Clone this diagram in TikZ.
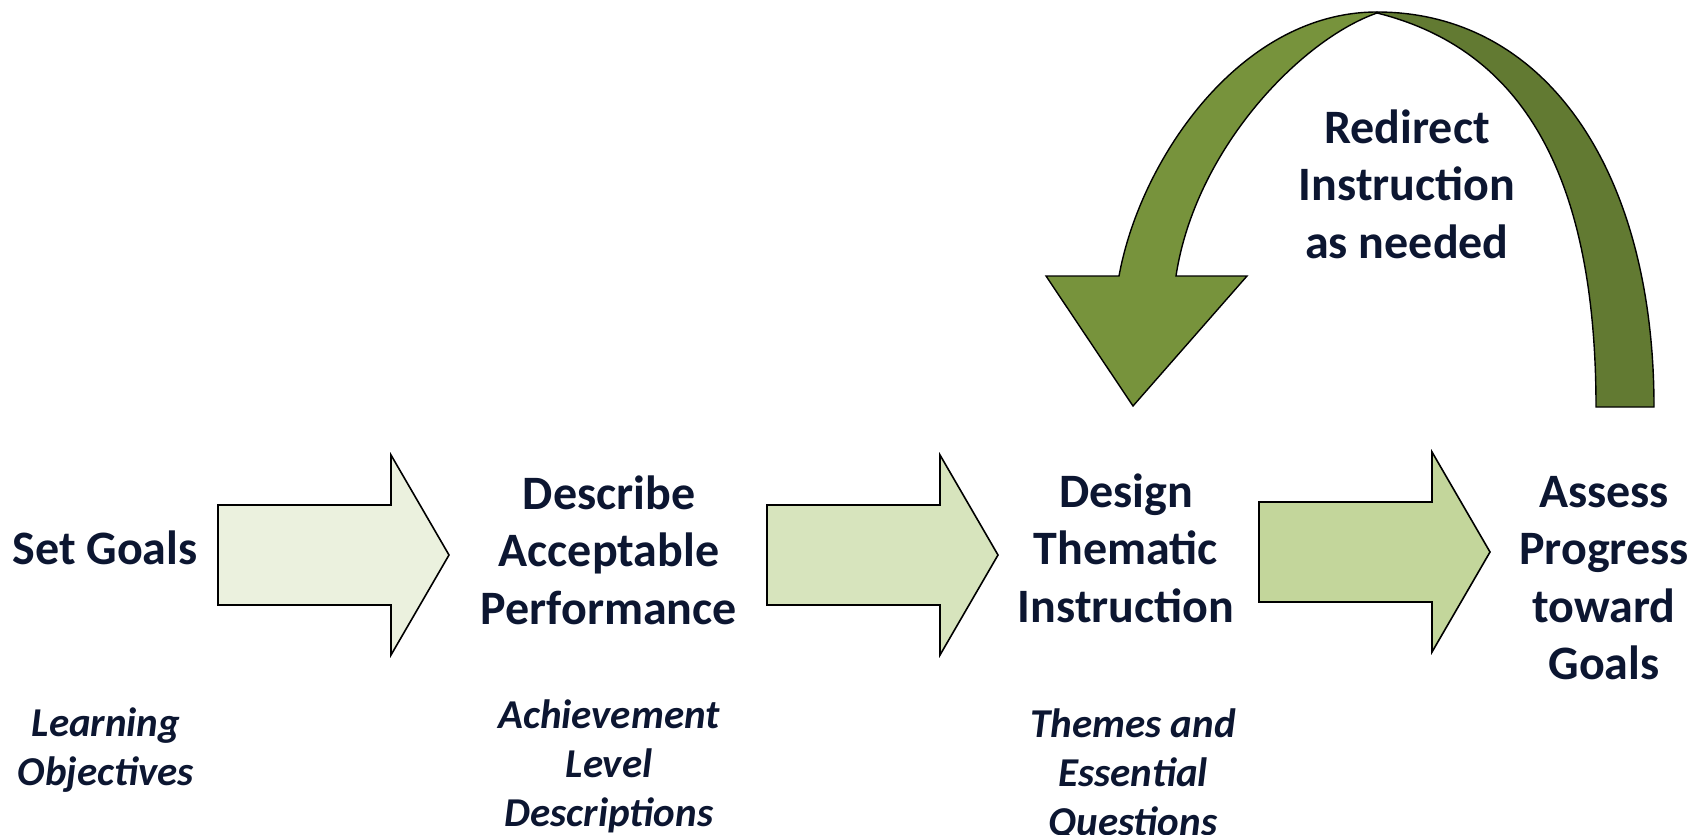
\documentclass[tikz,border=0pt]{standalone}
\usepackage{fontspec}
\setmainfont{Carlito}
\definecolor{inknavy}{HTML}{0C1631}
\definecolor{greenA}{HTML}{EBF1DE}
\definecolor{greenB}{HTML}{D7E4BD}
\definecolor{greenC}{HTML}{C3D69B}
\definecolor{loopfront}{HTML}{77933C}
\definecolor{loopback}{HTML}{627A32}
\begin{document}
\begin{tikzpicture}[x=1pt,y=-1pt,
  steptext/.style={text=inknavy, align=center, inner sep=0pt,
    font=\fontsize{48}{57.5}\selectfont\bfseries},
  subtext/.style={text=inknavy, align=center, inner sep=0pt,
    font=\fontsize{41}{49}\selectfont\bfseries\itshape},
  outline/.style={draw=black, line width=1.6pt, line join=miter},
  pics/blockarrow/.style={code={
    \path[pic actions] (0,-50) -- (173,-50) -- (173,-100) -- (231,0)
      -- (173,100) -- (173,50) -- (0,50) -- cycle;}}]
\useasboundingbox (0,0) rectangle (1703,835);

% step labels
\node[steptext] (goals) at (105,548) {Set Goals};
\node[steptext] (describe) at (609,550) {Describe\\Acceptable\\Performance};
\node[steptext] (design) at (1126,548) {Design\\Thematic\\Instruction};
\node[steptext] (assess) at (1604,578) {Assess\\Progress\\toward\\Goals};
\node[steptext] (redirect) at (1407,184) {Redirect\\Instruction\\as needed};

% details under each step
\node[subtext] (objectives) at (106,750) {Learning\\Objectives};
\node[subtext] (levels) at (609,766) {Achievement\\Level\\Descriptions};
\node[subtext] (themes) at (1133,775) {Themes and\\Essential\\Questions};

% block arrows between steps
\coordinate (a1) at (218,555);
\coordinate (a2) at (767,555);
\coordinate (a3) at (1259,552);
\pic[outline, fill=greenA] at (a1) {blockarrow};
\pic[outline, fill=greenB] at (a2) {blockarrow};
\pic[outline, fill=greenC] at (a3) {blockarrow};

% feedback loop: back band rising from the assessment step
\coordinate (top) at (1377,12);
\draw[outline, line width=1.4pt, fill=loopback]
  (top) .. controls (1545,12) and (1654,170) .. (1654,407)
  -- (1596,407)
  .. controls (1596,150) and (1505,45) .. (1377,13) -- cycle;
% front band ending in the arrow head over the design step
\draw[outline, line width=1.4pt, fill=loopfront]
  (top) .. controls (1240,12) and (1140,160) .. (1119,276)
  -- (1046,276) -- (1133,406) -- (1247,276) -- (1176,276)
  .. controls (1195,150) and (1300,40) .. (1377,13) -- cycle;
\end{tikzpicture}
\end{document}
